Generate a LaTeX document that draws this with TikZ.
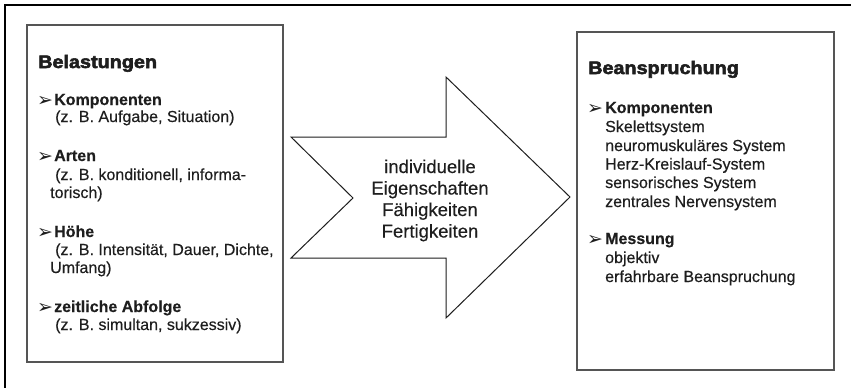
\documentclass[tikz,border=0pt]{standalone}
\usepackage{fontspec}
\setmainfont{Liberation Sans}[FakeBold=0.35]
\newfontfamily\heavyfont[FakeBold=3,FakeStretch=1.1]{Liberation Sans Bold}
\newfontfamily\symfont{DejaVu Sans}
\definecolor{ink}{HTML}{1E1E1E}
\definecolor{boxline}{HTML}{555555}
\begin{document}
\begin{tikzpicture}[x=1pt,y=-1pt,
  txt/.style={anchor=base west,inner sep=0pt,text=ink,font=\fontsize{16}{18}\selectfont},
  bold/.style={txt,font=\fontsize{16}{18}\selectfont\bfseries},
  head/.style={txt,font=\fontsize{18}{20}\selectfont\heavyfont},
  bul/.style={anchor=base west,inner sep=0pt,text=ink,font=\fontsize{19}{20}\selectfont\symfont},
  arrtxt/.style={anchor=base,inner sep=0pt,text=ink,font=\fontsize{18.5}{21}\selectfont},
  panel/.style={draw=boxline,line width=1.5pt,fill=white},
]
\useasboundingbox (0,0) rectangle (851,388);
\fill[white] (0,0) rectangle (851,388);
% outer frame (top and left only)
\draw[line width=2pt,black] (851,5) -- (5,5) -- (5,388);
% boxes
\draw[panel] (27,25) rectangle (283,362);
\draw[panel] (577,32) rectangle (834,370);
% big arrow
\draw[line width=1pt,draw=ink,fill=white,line join=miter]
  (291,137) -- (446,137) -- (446,77) -- (570,197) -- (446,318) -- (446,258) -- (291,258) -- (353,198) -- cycle;
% arrow text
\node[arrtxt] (a1) at (430,173) {individuelle};
\node[arrtxt] (a2) at (430,194.5) {Eigenschaften};
\node[arrtxt] (a3) at (430,216) {Fähigkeiten};
\node[arrtxt] (a4) at (430,237.5) {Fertigkeiten};
% left box
\node[head] (lh) at (38,68) {Belastungen};
\node[bul] (lb1) at (37,106) {➢};
\node[bold] (l1) at (54,105) {Komponenten};
\node[txt] (l1a) at (55,122) {(z. B. Aufgabe, Situation)};
\node[bul] (lb2) at (37,162) {➢};
\node[bold] (l2) at (54,161) {Arten};
\node[txt] (l2a) at (55,180) {(z. B. konditionell, informa-};
\node[txt] (l2b) at (50,198) {torisch)};
\node[bul] (lb3) at (37,238) {➢};
\node[bold] (l3) at (54,237) {Höhe};
\node[txt] (l3a) at (55,255) {(z. B. Intensität, Dauer, Dichte,};
\node[txt] (l3b) at (50,273) {Umfang)};
\node[bul] (lb4) at (37,313) {➢};
\node[bold] (l4) at (54,312) {zeitliche Abfolge};
\node[txt] (l4a) at (55,330) {(z. B. simultan, sukzessiv)};
% right box
\node[head] (rh) at (588,74) {Beanspruchung};
\node[bul] (rb1) at (587,114) {➢};
\node[bold] (r1) at (605,113) {Komponenten};
\node[txt] (r1a) at (605,132) {Skelettsystem};
\node[txt] (r1b) at (605,151) {neuromuskuläres System};
\node[txt] (r1c) at (605,169.5) {Herz-Kreislauf-System};
\node[txt] (r1d) at (605,188) {sensorisches System};
\node[txt] (r1e) at (605,207) {zentrales Nervensystem};
\node[bul] (rb2) at (587,245) {➢};
\node[bold] (r2) at (605,244) {Messung};
\node[txt] (r2a) at (605,263) {objektiv};
\node[txt] (r2b) at (605,282) {erfahrbare Beanspruchung};
\end{tikzpicture}
\end{document}
